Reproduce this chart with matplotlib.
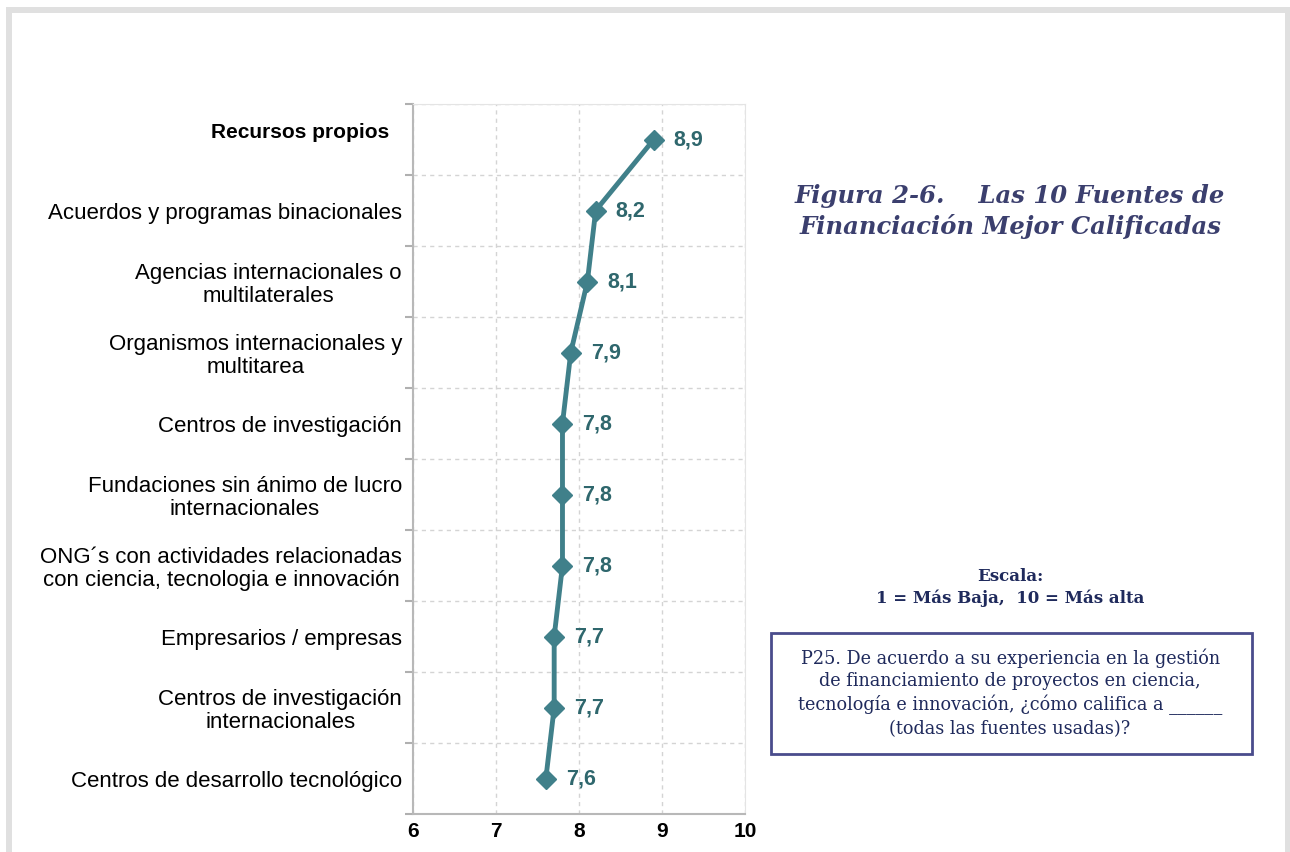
import numpy as np
import matplotlib
matplotlib.use('Agg')
import matplotlib.pyplot as plt
from matplotlib.patches import Rectangle

# data
categories = ['Recursos propios',
              'Acuerdos y programas binacionales',
              'Agencias internacionales o\nmultilaterales',
              'Organismos internacionales y\nmultitarea',
              'Centros de investigación',
              'Fundaciones sin ánimo de lucro\ninternacionales',
              'ONG´s con actividades relacionadas\ncon ciencia, tecnologia e innovación',
              'Empresarios / empresas',
              'Centros de investigación\ninternacionales',
              'Centros de desarrollo tecnológico']
scores = [8.9, 8.2, 8.1, 7.9, 7.8, 7.8, 7.8, 7.7, 7.7, 7.6]
xticks = [6, 7, 8, 9, 10]

title_txt = 'Figura 2-6.    Las 10 Fuentes de\nFinanciación Mejor Calificadas'
scale_txt = 'Escala:\n1 = Más Baja,  10 = Más alta'
question_txt = ('P25. De acuerdo a su experiencia en la gestión\n'
                'de financiamiento de proyectos en ciencia,\n'
                'tecnología e innovación, ¿cómo califica a ______\n'
                '(todas las fuentes usadas)?')

teal = '#40808a'
navy = '#1f2a5c'

plt.rcParams['font.family'] = ['Liberation Sans', 'DejaVu Sans']

fig = plt.figure(figsize=(12.9, 8.52), dpi=100)
ax = fig.add_axes([0.3202, 0.0446, 0.2574, 0.8333])

n = len(categories)
ypos = np.arange(n)
ax.plot(scores, ypos, color=teal, lw=3.5, marker='D', ms=10, zorder=3)
for s, y in zip(scores, ypos):
    ax.text(s + 0.24, y, ('%.1f' % s).replace('.', ','), color='#2f676d',
            fontsize=15.5, fontweight='bold', va='center', ha='left')

ax.set_xlim(6, 10)
ax.set_ylim(n - 0.5, -0.5)
ax.set_xticks(xticks)
ax.set_xticklabels([str(v) for v in xticks], fontsize=15, fontweight='bold')
ax.tick_params(axis='x', length=0, pad=6)

# first category drawn apart (bold, shifted up)
ax.set_yticks(ypos)
ax.set_yticklabels([''] + categories[1:], fontsize=16, multialignment='center',
                   linespacing=1.15)
ax.tick_params(axis='y', which='major', length=0, pad=8)
ax.set_yticks(np.arange(-0.5, n, 1.0), minor=True)
ax.tick_params(axis='y', which='minor', length=6, color='#b0b0b0', width=1.5)
ax.annotate(categories[0], xy=(0, ypos[0]), xycoords=('axes fraction', 'data'),
            xytext=(-24, 7), textcoords='offset pixels', ha='right', va='center',
            fontsize=15, fontweight='bold')

ax.grid(axis='x', which='major', ls=(0, (3, 3)), color='#d4d4d4', lw=1)
ax.grid(axis='y', which='minor', ls=(0, (3, 3)), color='#d4d4d4', lw=1)
for side in ['top', 'right']:
    ax.spines[side].set_color('#e4e4e4')
for side in ['left', 'bottom']:
    ax.spines[side].set_color('#b8b8b8')
    ax.spines[side].set_linewidth(1.5)

# right hand texts
fig.text(0.783, 0.752, title_txt, ha='center', va='center', fontsize=17.5,
         fontweight='bold', style='italic', color='#3b3f6e',
         family='DejaVu Serif', linespacing=1.3)
fig.text(0.783, 0.3105, scale_txt, ha='center', va='center', fontsize=12,
         fontweight='bold', color=navy, family='DejaVu Serif', linespacing=1.35)
fig.patches.append(Rectangle((0.5975, 0.115), 0.373, 0.142, transform=fig.transFigure,
                             fill=False, edgecolor='#4a4c8c', lw=2))
fig.text(0.783, 0.1865, question_txt, ha='center', va='center', fontsize=12.7,
         color=navy, family='DejaVu Serif', linespacing=1.3)

# gray page frame
gray = '#e0e0e0'
fig.patches.append(Rectangle((6 / 1290, 0), 6 / 1290, 1 - 7 / 852, transform=fig.transFigure,
                             color=gray, lw=0))
fig.patches.append(Rectangle((1285 / 1290, 0), 6 / 1290, 1 - 7 / 852, transform=fig.transFigure,
                             color=gray, lw=0))
fig.patches.append(Rectangle((6 / 1290, 1 - 13 / 852), 1285 / 1290, 6 / 852, transform=fig.transFigure,
                             color=gray, lw=0))

fig.savefig('out.png', dpi=100)
